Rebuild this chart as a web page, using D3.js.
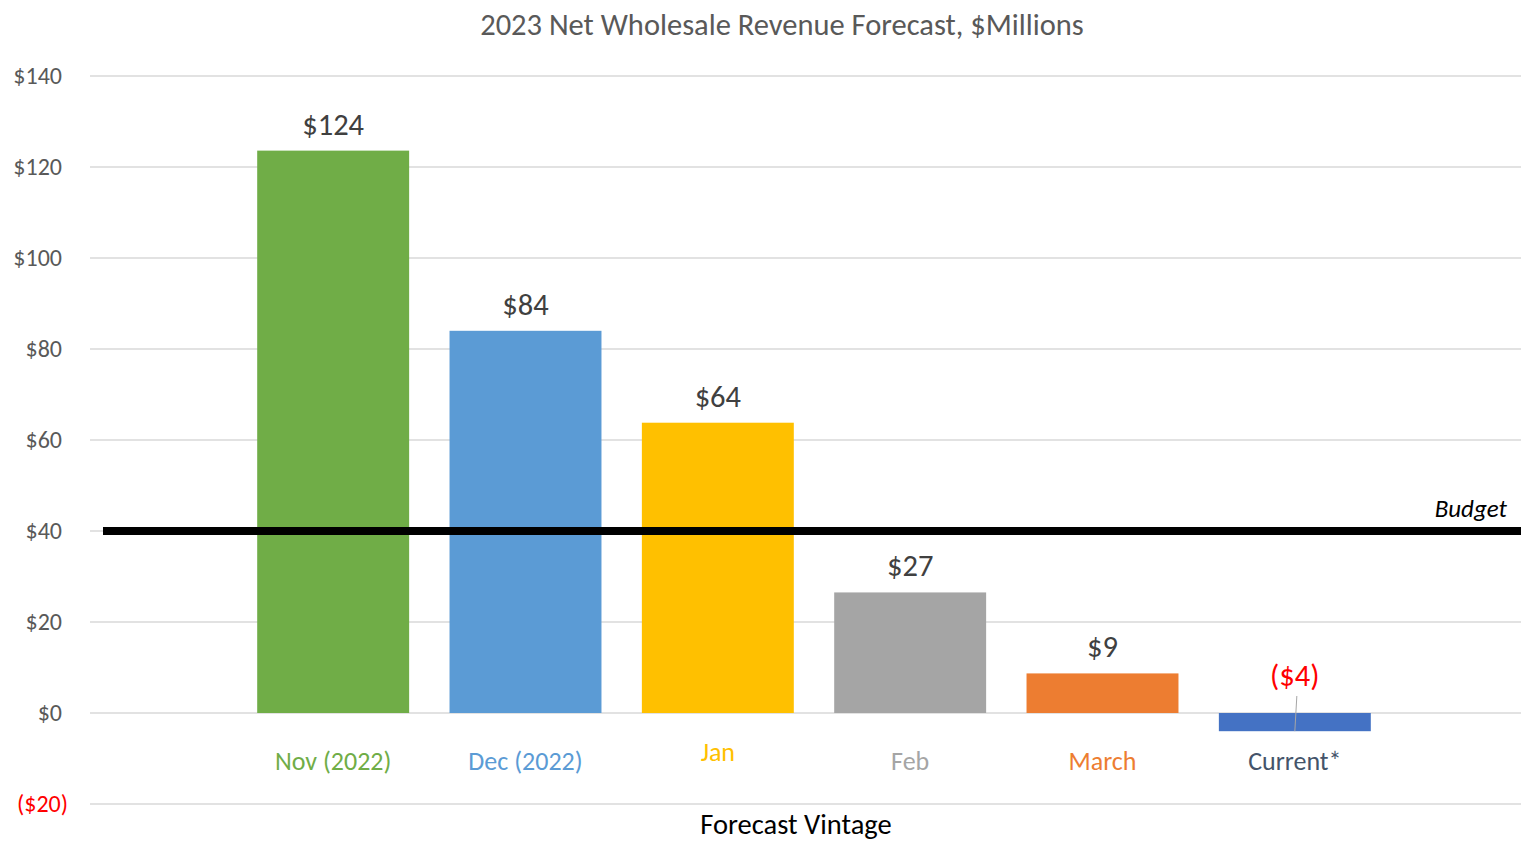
<!DOCTYPE html>
<html>
<head>
<meta charset="utf-8">
<script src="https://cdn.jsdelivr.net/npm/d3@7"></script>
<style>
  body { margin: 0; background: #fff; }
  svg { display: block; font-family: Carlito, Calibri, "Open Sans", sans-serif; }
</style>
</head>
<body>
<div id="chart"></div>
<script>
// chart data
const categories = ["Nov (2022)", "Dec (2022)", "Jan", "Feb", "March", "Current*"];
const values = [123.6, 84.0, 63.8, 26.5, 8.7, -4.0];
const barColors = ["#70ad47", "#5b9bd5", "#ffc000", "#a5a5a5", "#ed7d31", "#4472c4"];
const labelColors = ["#70ad47", "#5b9bd5", "#ffc000", "#a5a5a5", "#ed7d31", "#44546a"];
const yTicks = [-20, 0, 20, 40, 60, 80, 100, 120, 140];
const budget = 40;

const width = 1521, height = 842;

const svg = d3.select("#chart")
  .append("svg")
  .attr("width", width)
  .attr("height", height);

const y = d3.scaleLinear().domain([-20, 140]).range([804, 76]);

const x = d3.scaleBand()
  .domain(categories)
  .range([237, 1391])
  .paddingInner(0.21)
  .paddingOuter(0.105);

const money = v => v < 0 ? `($${Math.round(-v)})` : `$${Math.round(v)}`;

// gridlines
svg.append("g")
  .selectAll("line")
  .data(yTicks)
  .join("line")
  .attr("x1", 90)
  .attr("x2", width)
  .attr("y1", d => y(d))
  .attr("y2", d => y(d))
  .attr("stroke", "#d9d9d9")
  .attr("stroke-width", 1.3);

// y tick labels
svg.append("g")
  .selectAll("text")
  .data(yTicks)
  .join("text")
  .attr("x", d => d < 0 ? 68 : 62)
  .attr("y", d => y(d))
  .attr("dy", "0.35em")
  .attr("text-anchor", "end")
  .attr("font-size", 24)
  .attr("fill", d => d < 0 ? "#ff0000" : "#595959")
  .text(d => money(d));

// bars
svg.append("g")
  .selectAll("rect")
  .data(values)
  .join("rect")
  .attr("x", (d, i) => x(categories[i]))
  .attr("width", x.bandwidth())
  .attr("y", d => y(Math.max(0, d)))
  .attr("height", d => Math.abs(y(d) - y(0)))
  .attr("fill", (d, i) => barColors[i]);

// value labels
svg.append("g")
  .selectAll("text")
  .data(values)
  .join("text")
  .attr("x", (d, i) => x(categories[i]) + x.bandwidth() / 2)
  .attr("y", d => d < 0 ? y(0) - 27 : y(d) - 16)
  .attr("text-anchor", "middle")
  .attr("font-size", 30.5)
  .attr("fill", d => d < 0 ? "#ff0000" : "#404040")
  .text(d => money(d));

// leader line for the negative label
values.forEach((v, i) => {
  if (v >= 0) return;
  const cx = x(categories[i]) + x.bandwidth() / 2;
  svg.append("line")
    .attr("x1", cx + 2)
    .attr("x2", cx)
    .attr("y1", y(0) - 17)
    .attr("y2", y(v))
    .attr("stroke", "#a6a6a6")
    .attr("stroke-width", 1);
});

// category labels
svg.append("g")
  .selectAll("text")
  .data(categories)
  .join("text")
  .attr("x", d => x(d) + x.bandwidth() / 2)
  .attr("y", d => d === "Jan" ? 761 : 770)
  .attr("text-anchor", "middle")
  .attr("font-size", 26)
  .attr("fill", (d, i) => labelColors[i])
  .text(d => d);

// budget line
svg.append("line")
  .attr("x1", 103)
  .attr("x2", width)
  .attr("y1", y(budget))
  .attr("y2", y(budget))
  .attr("stroke", "#000")
  .attr("stroke-width", 8);

svg.append("text")
  .attr("x", 1507)
  .attr("y", y(budget) - 14)
  .attr("text-anchor", "end")
  .attr("font-size", 25)
  .attr("font-style", "italic")
  .attr("fill", "#000")
  .text("Budget");

// title
svg.append("text")
  .attr("x", 782)
  .attr("y", 35)
  .attr("text-anchor", "middle")
  .attr("font-size", 30.5)
  .attr("fill", "#595959")
  .text("2023 Net Wholesale Revenue Forecast, $Millions");

// axis title
svg.append("text")
  .attr("x", 796)
  .attr("y", 834)
  .attr("text-anchor", "middle")
  .attr("font-size", 28.5)
  .attr("fill", "#000")
  .text("Forecast Vintage");
</script>
</body>
</html>
